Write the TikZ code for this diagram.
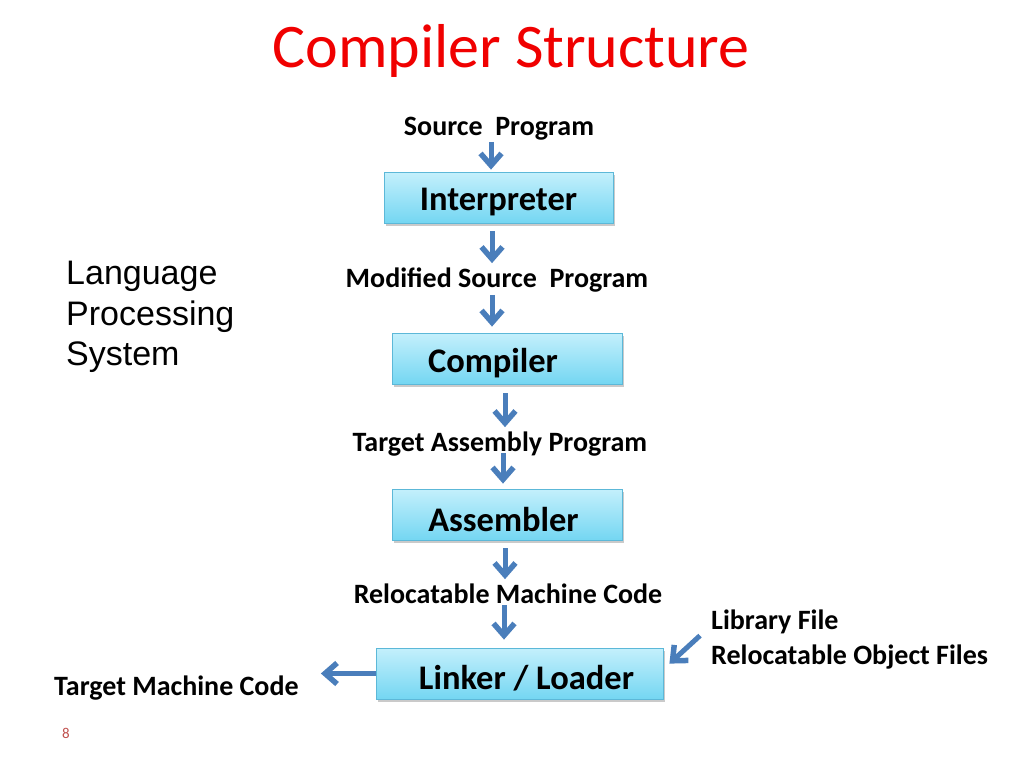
\documentclass[tikz,border=0pt]{standalone}
\usepackage{fontspec}
\setmainfont{Carlito}
\newfontfamily\arialf{Liberation Sans}
\usetikzlibrary{arrows.meta,shadows,calc}
\definecolor{arrblue}{HTML}{4A7EBB}
\definecolor{titlered}{HTML}{F00000}
\definecolor{boxtop}{HTML}{C4F0FC}
\definecolor{boxbot}{HTML}{74D6F2}
\definecolor{boxedge}{HTML}{5CB8D8}
\definecolor{numred}{HTML}{C0504D}
\begin{document}
\begin{tikzpicture}[x=1pt,y=-1pt,
  box/.style={draw=boxedge, line width=0.8pt, top color=boxtop, bottom color=boxbot,
    minimum height=51pt, inner sep=0pt,
    drop shadow={shadow xshift=2pt, shadow yshift=-3pt, opacity=0.35, fill=black!60}},
  boxtext/.style={font=\bfseries\fontsize{34.5}{38}\selectfont, inner sep=0pt},
  lbl/.style={font=\bfseries\fontsize{28}{32}\selectfont, inner sep=0pt},
  arr/.style={draw=arrblue, line width=5pt,
    -{Straight Barb[length=12pt,width=21pt,line width=5.5pt]}}]
\useasboundingbox (0,0) rectangle (1024,768);

% title
\node[font=\fontsize{62}{68}\selectfont, text=titlered, anchor=base, inner sep=0pt] (title) at (511,67) {Compiler Structure};

% side text
\node[font=\arialf\fontsize{34}{40.5}\selectfont, anchor=north west, align=left, inner sep=0pt] (lps) at (66,261)
  {Language\\Processing\\System};

% boxes
\node[box, minimum width=229pt, label={[boxtext, yshift=-5pt]center:Interpreter}] (interp) at (498.5,197.5) {};
\node[box, minimum width=230pt, label={[boxtext, xshift=-14pt, yshift=-5pt]center:Compiler}] (comp) at (507,358.5) {};
\node[box, minimum width=230pt, label={[boxtext, xshift=-3.5pt, yshift=-5pt]center:Assembler}] (asm) at (507,514.5) {};
\node[box, minimum width=287pt, label={[boxtext, xshift=7pt, yshift=-5pt]center:Linker / Loader}] (link) at (519.5,673.5) {};

% labels
\node[lbl, anchor=base] (src) at (499,135) {Source\ \ Program};
\node[lbl, anchor=base] (mod) at (497,287) {Modified Source\ \ Program};
\node[lbl, anchor=base] (tap) at (500,451) {Target Assembly Program};
\node[lbl, anchor=base] (rmc) at (508,603) {Relocatable Machine Code};
\node[lbl, anchor=base west] (lib) at (711,629) {Library File};
\node[lbl, anchor=base west] (rof) at (711,664) {Relocatable Object Files};
\node[lbl, anchor=base west] (tmc) at (54,695) {Target Machine Code};
\node[font=\fontsize{15}{18}\selectfont, text=numred, anchor=base west, inner sep=0pt] (num) at (62,738) {8};

% connector x positions
\coordinate (x1) at (491,0);
\coordinate (x2) at (492,0);
\coordinate (x3) at (505,0);
\coordinate (x4) at (503,0);
\coordinate (x5) at (505,0);
\coordinate (x6) at (504,0);

\draw[arr] ([yshift=-2pt]src.south -| x1) -- ([yshift=2pt]interp.north -| x1);
\draw[arr] ([yshift=-8pt]interp.south -| x2) -- ([yshift=4pt]mod.north -| x2);
\draw[arr] ([yshift=-3pt]mod.south -| x2) -- ([yshift=6pt]comp.north -| x2);
\draw[arr] ([yshift=-9pt]comp.south -| x3) -- ([yshift=4pt]tap.north -| x3);
\draw[arr] ([yshift=3pt]tap.south -| x4) -- ([yshift=5pt]asm.north -| x4);
\draw[arr] ([yshift=-8pt]asm.south -| x5) -- ([yshift=4pt]rmc.north -| x5);
\draw[arr] ([yshift=-2pt]rmc.south -| x6) -- ([yshift=8pt]link.north -| x6);
\draw[arr] ([xshift=-11pt,yshift=-2pt]lib.south west) -- ([xshift=6pt,yshift=-16pt]link.north east);
\draw[arr] (link.west) -- ([xshift=22pt]tmc.east |- link.west);
\end{tikzpicture}
\end{document}
